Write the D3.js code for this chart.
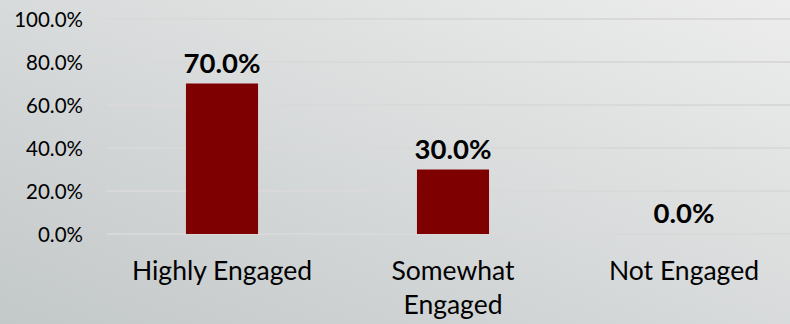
<!DOCTYPE html>
<html>
<head>
<meta charset="utf-8">
<script src="https://cdn.jsdelivr.net/npm/d3@7"></script>
<style>
  html, body { margin: 0; padding: 0; background: #d8dbdc; }
  svg { display: block; font-family: Lato, "Open Sans", sans-serif; }
</style>
</head>
<body>
<svg id="chart" width="790" height="324"></svg>
<script>
// Engagement levels and their shares
const categories = ["Highly Engaged", "Somewhat Engaged", "Not Engaged"];
const categoryLines = [["Highly Engaged"], ["Somewhat", "Engaged"], ["Not Engaged"]];
const values = [0.70, 0.30, 0.00];
const tickValues = [0, 0.2, 0.4, 0.6, 0.8, 1.0];

const W = 790, H = 324;
const svg = d3.select("#chart");

// Soft diagonal grey backdrop
const defs = svg.append("defs");
const grad = defs.append("linearGradient")
  .attr("id", "bg").attr("x1", "1").attr("y1", "0").attr("x2", "0").attr("y2", "1");
grad.append("stop").attr("offset", "0%").attr("stop-color", "#ededed");
grad.append("stop").attr("offset", "100%").attr("stop-color", "#c3c8c9");
svg.append("rect").attr("width", W).attr("height", H).attr("fill", "url(#bg)");

const x = d3.scaleBand()
  .domain(categories)
  .range([106.5, 799.5])
  .paddingInner(0.688)
  .paddingOuter(0.344);

const y = d3.scaleLinear().domain([0, 1]).range([234, 19]);
const pct = d3.format(".1%");

// Horizontal gridlines
svg.append("g").selectAll("line")
  .data(tickValues)
  .join("line")
  .attr("x1", 107).attr("x2", W)
  .attr("y1", d => y(d)).attr("y2", d => y(d))
  .attr("stroke", "#d9d9d9")
  .attr("stroke-width", 2);

// Y axis tick labels
const yAxis = d3.axisLeft(y).tickValues(tickValues).tickFormat(pct).tickSize(0).tickPadding(0);
const gy = svg.append("g").attr("transform", "translate(83,0)").call(yAxis);
gy.select(".domain").remove();
gy.selectAll("text")
  .attr("font-family", "Lato, 'Open Sans', sans-serif")
  .attr("font-size", 20.5)
  .attr("fill", "#000")
  .attr("dy", "0.36em");

// Bars
svg.append("g").selectAll("rect")
  .data(values)
  .join("rect")
  .attr("x", (d, i) => x(categories[i]))
  .attr("width", x.bandwidth())
  .attr("y", d => y(d))
  .attr("height", d => y(0) - y(d))
  .attr("fill", "#7f0000");

// Value labels above bars
svg.append("g").selectAll("text")
  .data(values)
  .join("text")
  .attr("x", (d, i) => x(categories[i]) + x.bandwidth() / 2)
  .attr("y", d => y(d) - 11)
  .attr("text-anchor", "middle")
  .attr("font-size", 27.5)
  .attr("font-weight", "bold")
  .attr("fill", "#000")
  .text(d => pct(d));

// Category labels, wrapped where needed
const cat = svg.append("g").selectAll("text")
  .data(categories)
  .join("text")
  .attr("x", d => x(d) + x.bandwidth() / 2)
  .attr("y", 280)
  .attr("text-anchor", "middle")
  .attr("font-size", 26.5)
  .attr("fill", "#000");
cat.each(function(d, i) {
  d3.select(this).selectAll("tspan")
    .data(categoryLines[i])
    .join("tspan")
    .attr("x", x(d) + x.bandwidth() / 2)
    .attr("dy", (t, j) => j === 0 ? 0 : 34)
    .text(t => t);
});
</script>
</body>
</html>
